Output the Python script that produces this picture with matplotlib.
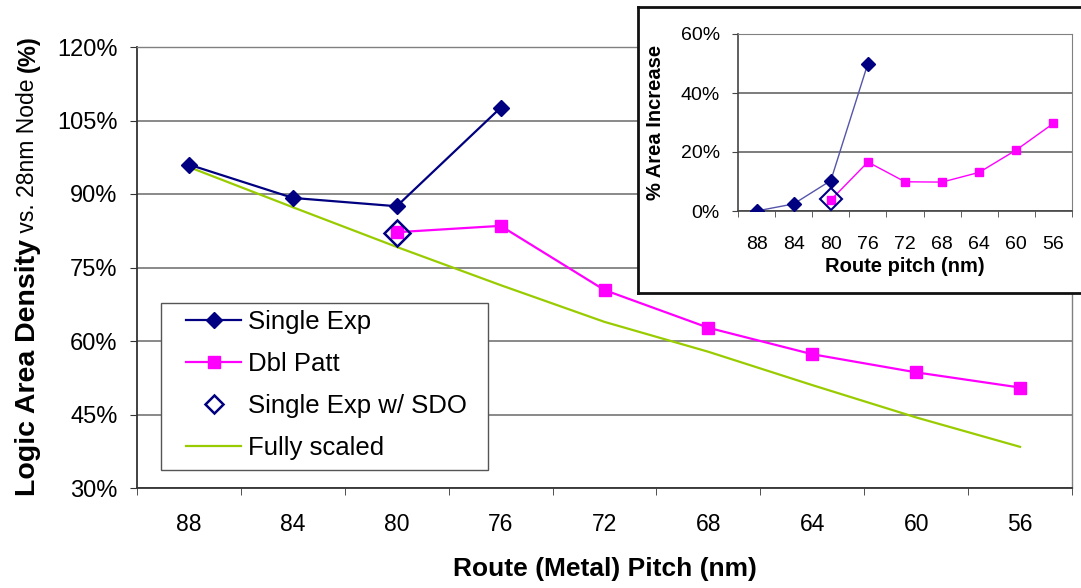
import numpy as np
import matplotlib
matplotlib.use("Agg")
import matplotlib.pyplot as plt
from matplotlib.patches import Rectangle
from matplotlib.ticker import FixedLocator, PercentFormatter

plt.rcParams['font.family'] = ['Liberation Sans', 'DejaVu Sans']

# data
pitch = ["88", "84", "80", "76", "72", "68", "64", "60", "56"]
single_exp = [96.0, 89.2, 87.5, 107.6]               # 88..76
dbl_patt = [82.2, 83.5, 70.4, 62.7, 57.3, 53.6, 50.5]  # 80..56
sdo = [82.0]                                          # at 80
fully_scaled = [95.5, 87.3, 79.2, 71.4, 63.9, 57.8, 51.0, 44.4, 38.4]

inset_single = [0.0, 2.4, 10.3, 50.0]
inset_dbl = [3.7, 16.6, 9.9, 9.8, 13.1, 20.7, 29.7]
inset_sdo = [4.0]

NAVY = '#000080'
MAG = '#FF00FF'
GREEN = '#99CC00'
GRID = '#808080'

W, H = 1081, 588
x = np.arange(len(pitch))

fig = plt.figure(figsize=(W/100, H/100), dpi=100)
ax = fig.add_axes([137/W, 1-488/H, (1072-137)/W, (488-47)/H])

l4, = ax.plot(x, fully_scaled, color=GREEN, lw=1.6, label='Fully scaled', zorder=3)
l1, = ax.plot(x[:4], single_exp, color=NAVY, lw=1.6, marker='D', ms=8.5,
              label='Single Exp', zorder=4)
l2, = ax.plot(x[2:], dbl_patt, color=MAG, lw=1.6, marker='s', ms=8.5,
              label='Dbl Patt', zorder=4)
l3, = ax.plot(x[2:3], sdo, ls='none', marker='D', ms=13, mfc='none', mec=NAVY,
              mew=1.8, label='Single Exp w/ SDO', zorder=5)

ax.set_xlim(-0.5, len(pitch) - 0.5)
ax.set_ylim(30, 120)
ax.set_yticks(np.arange(30, 121, 15))
ax.yaxis.set_major_formatter(PercentFormatter(decimals=0))
ax.set_xticks(x)
ax.set_xticklabels(pitch)
ax.xaxis.set_minor_locator(FixedLocator(np.arange(-0.5, len(pitch), 1)))
ax.tick_params(axis='x', which='major', length=0, pad=18, labelsize=16.5)
ax.tick_params(axis='x', which='minor', length=5, direction='out', color='#333333')
ax.tick_params(axis='y', length=5, pad=9, labelsize=17, color='#333333')
ax.grid(axis='y', color=GRID, lw=1.3)
ax.set_axisbelow(True)
for s in ['left', 'bottom']:
    ax.spines[s].set_color('#333333')
    ax.spines[s].set_linewidth(1.3)
for s in ['top', 'right']:
    ax.spines[s].set_color(GRID)
    ax.spines[s].set_linewidth(1.0)

# legend: frame drawn separately so the padding matches
frame = Rectangle((161/W, 1-470/H), (488-161)/W, (470-303)/H, transform=fig.transFigure,
                  facecolor='white', edgecolor='#555555', lw=1.0, zorder=6)
ax.add_patch(frame)
leg = ax.legend(handles=[l1, l2, l3, l4], loc='upper left',
                bbox_to_anchor=(186/W, 1-310/H), bbox_transform=fig.transFigure,
                fontsize=18.5, numpoints=1, handlelength=2.15, handletextpad=0.28,
                labelspacing=0.7, borderpad=0, frameon=False, borderaxespad=0)
leg.set_zorder(7)
for h in leg.legend_handles:
    h.set_markersize(9 if h.get_label() == 'Single Exp w/ SDO' else 8)

ax.set_xlabel('Route (Metal) Pitch (nm)', fontsize=19, fontweight='bold', labelpad=15)

# y label with mixed weights
renderer = fig.canvas.get_renderer()
parts = [("Logic Area Density", 'bold', 20.5), (" vs. 28nm Node ", 'normal', 16.5),
         ("(%)", 'bold', 17)]
y0 = 1 - 496/H
for txt, w, fs in parts:
    t = fig.text(28/W, y0, txt, rotation=90, fontsize=fs, fontweight=w,
                 ha='center', va='bottom')
    bb = t.get_window_extent(renderer)
    y0 += bb.height / fig.bbox.height

# inset
bg = fig.add_axes([638/W, 1-293/H, 0.45, (293-7)/H], zorder=8)
bg.set_xticks([])
bg.set_yticks([])
for s in bg.spines.values():
    s.set_color('#111111')
    s.set_linewidth(2)

ins = fig.add_axes([738/W, 1-211/H, (1072-738)/W, (211-34)/H], zorder=9)
ins.plot(x[:4], inset_single, color='#5555AA', lw=1.0, marker='D', ms=7,
         mfc=NAVY, mec=NAVY, zorder=4)
ins.plot(x[2:], inset_dbl, color=MAG, lw=1.0, marker='s', ms=6, zorder=4)
ins.plot(x[2:3], inset_sdo, ls='none', marker='D', ms=11, mfc='none', mec=NAVY,
         mew=1.5, zorder=5)
ins.set_xlim(-0.5, len(pitch) - 0.5)
ins.set_ylim(0, 60)
ins.set_yticks([0, 20, 40, 60])
ins.yaxis.set_major_formatter(PercentFormatter(decimals=0))
ins.set_xticks(x)
ins.set_xticklabels(pitch)
ins.xaxis.set_minor_locator(FixedLocator(np.arange(-0.5, len(pitch), 1)))
ins.tick_params(axis='x', which='major', length=0, pad=18, labelsize=14)
ins.tick_params(axis='x', which='minor', length=4, direction='out', color='#444444')
ins.tick_params(axis='y', length=4, pad=9, labelsize=14, color='#444444')
ins.grid(axis='y', color='#666666', lw=1.2)
ins.set_axisbelow(True)
for s in ['left', 'bottom']:
    ins.spines[s].set_color('#444444')
    ins.spines[s].set_linewidth(1.2)
for s in ['top', 'right']:
    ins.spines[s].set_color(GRID)
ins.set_ylabel('% Area Increase', fontsize=14.5, fontweight='bold')
ins.yaxis.set_label_coords((665-738)/(1072-738), 0.5)
ins.set_xlabel('Route pitch (nm)', fontsize=14.5, fontweight='bold')
ins.xaxis.set_label_coords(0.5, -0.26)

fig.savefig('out.png', dpi=100)
